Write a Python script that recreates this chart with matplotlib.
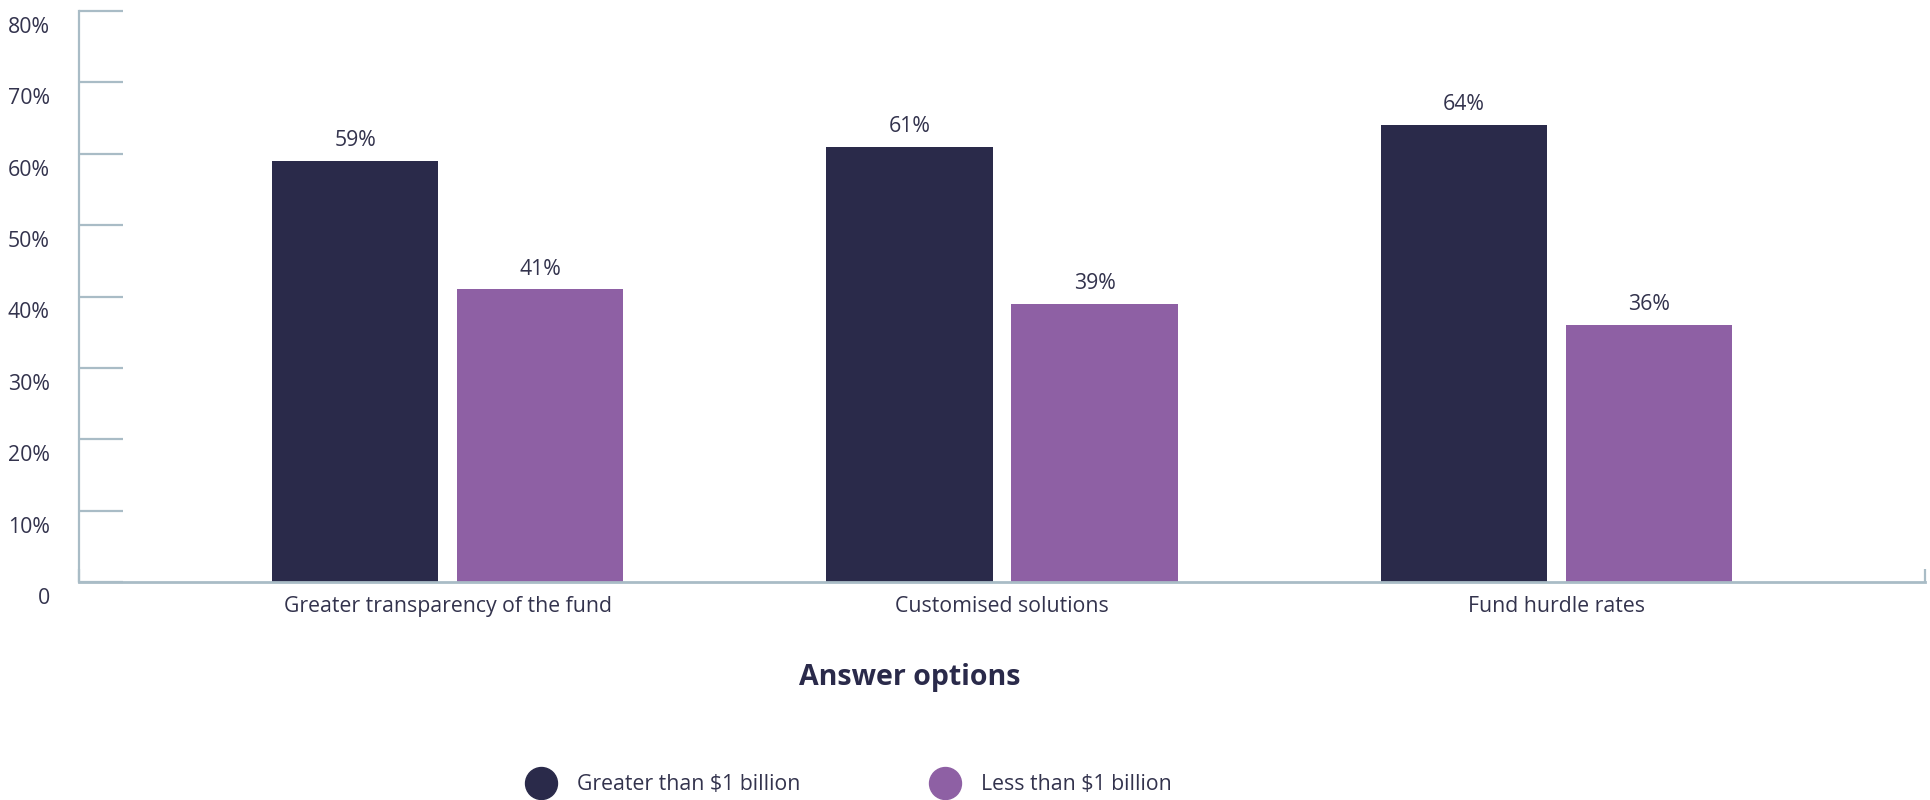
import numpy as np
import matplotlib.pyplot as plt
from matplotlib.lines import Line2D
from matplotlib.transforms import ScaledTranslation

plt.rcParams['font.family'] = ['Open Sans', 'DejaVu Sans']

categories = ['Greater transparency of the fund', 'Customised solutions', 'Fund hurdle rates']
big_funds = [59, 61, 64]
small_funds = [41, 39, 36]
series_names = ['Greater than $1 billion', 'Less than $1 billion']
yticks = [0, 10, 20, 30, 40, 50, 60, 70, 80]

dark = '#2a2a4a'
purple = '#8e60a4'
axis_col = '#a9bcc6'
text_col = '#33334d'
fs = 15.3

fig = plt.figure(figsize=(19.3, 8), dpi=100)
ax = fig.add_axes([79 / 1930, 218 / 800, 1846 / 1930, 571 / 800])

x = np.arange(len(categories))
w = 0.3
off = 0.167
b1 = ax.bar(x - off, big_funds, w, color=dark)
b2 = ax.bar(x + off, small_funds, w, color=purple)

# value labels just above each bar
for bars, vals in ((b1, big_funds), (b2, small_funds)):
    for rect, v in zip(bars, vals):
        ax.annotate(f'{v}%', (rect.get_x() + rect.get_width() / 2, v),
                    xytext=(0, 7), textcoords='offset points',
                    ha='center', va='bottom', fontsize=fs, color=text_col)

ax.set_xlim(-0.665, 2.665)
ax.set_ylim(0, 80)

for s in ('top', 'right'):
    ax.spines[s].set_visible(False)
ax.spines['left'].set_color(axis_col)
ax.spines['left'].set_linewidth(1.6)
ax.spines['bottom'].set_color(axis_col)
ax.spines['bottom'].set_linewidth(2.0)

ax.set_yticks(yticks)
ax.set_yticklabels(['0' if t == 0 else f'{t}%' for t in yticks])
ax.tick_params(axis='y', direction='in', length=32, width=1.6, color=axis_col,
               pad=21, labelsize=fs, labelcolor=text_col)
shift = ScaledTranslation(0, -0.14, fig.dpi_scale_trans)
for lab in ax.get_yticklabels():
    lab.set_transform(lab.get_transform() + shift)

ax.set_xticks(x)
ax.set_xticklabels(categories)
ax.tick_params(axis='x', which='major', length=0, pad=10, labelsize=fs, labelcolor=text_col)
ax.set_xticks([-0.665, 2.665], minor=True)
ax.tick_params(axis='x', which='minor', direction='in', length=9.5, width=1.6, color=axis_col)

fig.text(910 / 1930, 1 - 677 / 800, 'Answer options', ha='center', va='center',
         fontsize=20.5, fontweight='bold', color=dark)

handles = [Line2D([], [], ls='none', marker='o', markersize=23, color=c)
           for c in (dark, purple)]
fig.legend(handles, series_names, loc='center', bbox_to_anchor=(850 / 1930, 1 - 785 / 800),
           ncol=2, frameon=False, fontsize=fs, labelcolor=text_col,
           handletextpad=1.1, columnspacing=6.2, handlelength=1.2)

fig.savefig('out.png', dpi=100)
